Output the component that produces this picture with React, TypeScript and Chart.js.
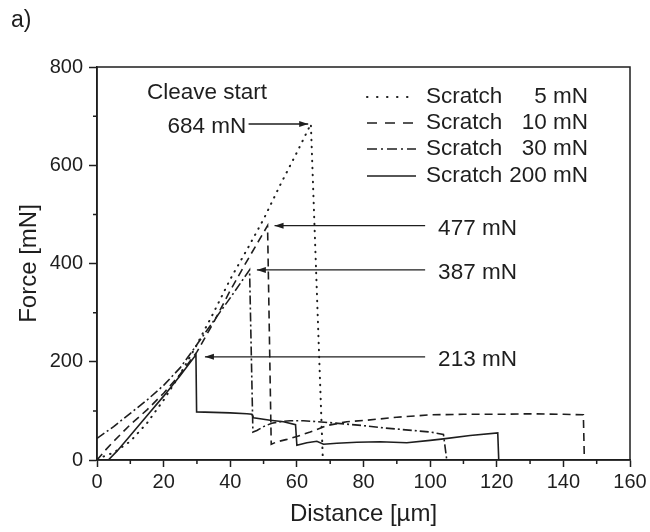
import React, { useEffect, useRef } from "react";
import { Chart, registerables } from "chart.js";
Chart.register(...registerables);

const INK = "#1e1e1e";
const FONT = "'Liberation Sans', Arial, Helvetica, sans-serif";

// Scratch 5 mN (dotted)
const dist5 = [0, 5, 10, 15, 20, 25, 30, 35, 40, 45, 50, 55, 60, 64.2, 67.8];
const force5 = [2, 15, 38, 75, 122, 175, 235, 300, 368, 428, 490, 560, 626, 684, 0];

// Scratch 10 mN (dashed)
const dist10 = [0, 2.5, 5, 10, 15, 20, 25, 30, 35, 40, 45, 51.2, 52.3, 54, 57, 60, 64, 69, 75, 81, 90, 100, 110, 120, 130, 140, 146, 146.3];
const force10 = [0, 20, 38, 72, 102, 136, 175, 220, 280, 345, 405, 477, 32, 37, 42, 48, 57, 70, 78, 81, 87, 92, 93, 93, 94, 93, 92, 0];

// Scratch 30 mN (dash-dot)
const dist30 = [0, 5, 10, 15, 20, 25, 30, 35, 40, 45.8, 46.8, 48, 50, 52.5, 55, 58, 62, 66, 70, 75, 80, 85, 90, 95, 100, 104, 105];
const force30 = [44, 68, 95, 122, 152, 188, 235, 283, 330, 387, 57, 60, 68, 75, 78, 80, 80, 78, 76, 73, 70, 66, 63, 60, 57, 52, 0];

// Scratch 200 mN (solid)
const dist200 = [3.4, 6, 10, 15, 20, 25, 29.7, 29.9, 35, 40, 45, 46.5, 47, 52, 56, 59.6, 60, 63, 66, 68, 72, 78, 85, 93, 100, 104, 112, 120.3, 120.6];
const force200 = [0, 18, 50, 90, 130, 172, 214, 98, 97, 96, 94, 93, 86, 81, 78, 72, 30, 35, 38, 32, 34, 36, 37, 35, 40, 43, 50, 55, 0];

const seriesNames = ["Scratch", "Scratch", "Scratch", "Scratch"];
const seriesLoads = ["5 mN", "10 mN", "30 mN", "200 mN"];

const xMinor = [10, 30, 50, 70, 90, 110, 130, 150];
const yMinor = [100, 300, 500, 700];

// annotation arrows: label, value, arrow tail x, arrow head x
const arrowLabels = ["477 mN", "387 mN", "213 mN"];
const arrowForces = [477, 387, 210];
const arrowTails = [98.5, 98.5, 98.5];
const arrowHeads = [53.3, 48, 32.4];

const toXY = (xs: number[], ys: number[]) => xs.map((x, i) => ({ x, y: ys[i] }));

const dashes: number[][] = [[0.5, 6.5], [8, 5], [9, 3, 2, 3], []];
const legendDashes: number[][] = [[0.5, 9.5], [10, 8], [10, 4, 2, 4], []];

const TXT = 22.5;

function arrow(ctx: CanvasRenderingContext2D, x1: number, y: number, x2: number) {
  ctx.beginPath();
  ctx.moveTo(x1, y);
  ctx.lineTo(x2, y);
  ctx.stroke();
  const dir = x2 > x1 ? 1 : -1;
  ctx.beginPath();
  ctx.moveTo(x2, y);
  ctx.lineTo(x2 - dir * 9, y - 3);
  ctx.lineTo(x2 - dir * 9, y + 3);
  ctx.closePath();
  ctx.fill();
}

const decor = {
  id: "decor",
  afterDraw(chart: any) {
    const { ctx, chartArea: a, scales } = chart;
    const x = scales.x, y = scales.y;
    ctx.save();
    ctx.strokeStyle = INK;
    ctx.fillStyle = INK;
    ctx.lineWidth = 1.5;
    ctx.setLineDash([]);
    ctx.strokeRect(a.left, a.top, a.right - a.left, a.bottom - a.top);
    ctx.beginPath();
    for (const v of xMinor) {
      const px = x.getPixelForValue(v);
      ctx.moveTo(px, a.bottom);
      ctx.lineTo(px, a.bottom + 4);
    }
    for (const v of yMinor) {
      const py = y.getPixelForValue(v);
      ctx.moveTo(a.left - 4, py);
      ctx.lineTo(a.left, py);
    }
    ctx.stroke();

    ctx.font = `23px ${FONT}`;
    ctx.textBaseline = "middle";
    ctx.textAlign = "left";
    ctx.fillText("a)", 11, 21);

    ctx.font = `${TXT}px ${FONT}`;
    ctx.textAlign = "center";
    ctx.fillText("Cleave start", x.getPixelForValue(33), y.getPixelForValue(747));
    ctx.textAlign = "right";
    ctx.fillText("684 mN", x.getPixelForValue(44.8), y.getPixelForValue(679));
    ctx.lineWidth = 1.3;
    arrow(ctx, x.getPixelForValue(45.5), y.getPixelForValue(684), x.getPixelForValue(63.4));

    ctx.textAlign = "left";
    arrowLabels.forEach((lab, i) => {
      const py = y.getPixelForValue(arrowForces[i]);
      arrow(ctx, x.getPixelForValue(arrowTails[i]), py, x.getPixelForValue(arrowHeads[i]));
      ctx.fillText(lab, x.getPixelForValue(102.4), py + 3);
    });

    // legend
    const rows = [a.top + 30, a.top + 56, a.top + 82, a.top + 109];
    const sx1 = a.right - 263, sx2 = a.right - 214;
    const tx = a.right - 204, tr = a.right - 42;
    seriesNames.forEach((n, i) => {
      const ry = rows[i];
      ctx.setLineDash(legendDashes[i]);
      ctx.lineCap = i === 0 ? "round" : "butt";
      ctx.lineWidth = i === 0 ? 2 : 1.6;
      ctx.beginPath();
      ctx.moveTo(sx1, ry);
      ctx.lineTo(sx2, ry);
      ctx.stroke();
      ctx.setLineDash([]);
      ctx.textAlign = "left";
      ctx.fillText(n, tx, ry);
      ctx.textAlign = "right";
      ctx.fillText(seriesLoads[i], tr, ry);
    });
    ctx.restore();
  },
};

export default function App() {
  const ref = useRef<HTMLCanvasElement | null>(null);
  useEffect(() => {
    document.body.style.margin = "0";
    const canvas = ref.current!;
    const mk = (xs: number[], ys: number[], i: number) => ({
      label: `${seriesNames[i]} ${seriesLoads[i]}`,
      data: toXY(xs, ys),
      borderColor: INK,
      borderWidth: i === 0 ? 2 : 1.6,
      borderDash: dashes[i],
      borderCapStyle: i === 0 ? "round" : "butt",
      pointRadius: 0,
      tension: 0,
      fill: false,
    });
    const chart = new Chart(canvas, {
      type: "line",
      data: {
        datasets: [
          mk(dist5, force5, 0),
          mk(dist10, force10, 1),
          mk(dist30, force30, 2),
          mk(dist200, force200, 3),
        ] as any,
      },
      options: {
        animation: false,
        responsive: false,
        layout: { padding: { left: 0, right: 20, top: 67, bottom: 0 }, autoPadding: false } as any,
        plugins: { legend: { display: false }, tooltip: { enabled: false } },
        scales: {
          x: {
            type: "linear",
            min: 0,
            max: 160,
            ticks: { stepSize: 20, color: INK, font: { family: FONT, size: 20 }, padding: 3, maxRotation: 0 },
            grid: { drawOnChartArea: false, drawTicks: true, tickLength: 7, tickColor: INK, tickWidth: 1.5 },
            border: { display: true, color: INK, width: 1.5 },
            title: { display: true, text: "Distance [µm]", color: INK, font: { family: FONT, size: 24 }, padding: { top: 0, bottom: 3 } },
            afterFit: (s: any) => { s.height = 72; },
          },
          y: {
            type: "linear",
            min: 0,
            max: 800,
            ticks: { stepSize: 200, color: INK, font: { family: FONT, size: 20 }, padding: 6 },
            grid: { drawOnChartArea: false, drawTicks: true, tickLength: 8, tickColor: INK, tickWidth: 1.5 },
            border: { display: true, color: INK, width: 1.5 },
            title: { display: true, text: "Force [mN]", color: INK, font: { family: FONT, size: 24 }, padding: { top: 15, bottom: 0 } },
            afterFit: (s: any) => { s.width = 97; },
          },
        },
      },
      plugins: [decor],
    });
    return () => chart.destroy();
  }, []);
  return (
    <div style={{ width: 650, height: 532, background: "#fff" }}>
      <canvas ref={ref} width={650} height={532} />
    </div>
  );
}
